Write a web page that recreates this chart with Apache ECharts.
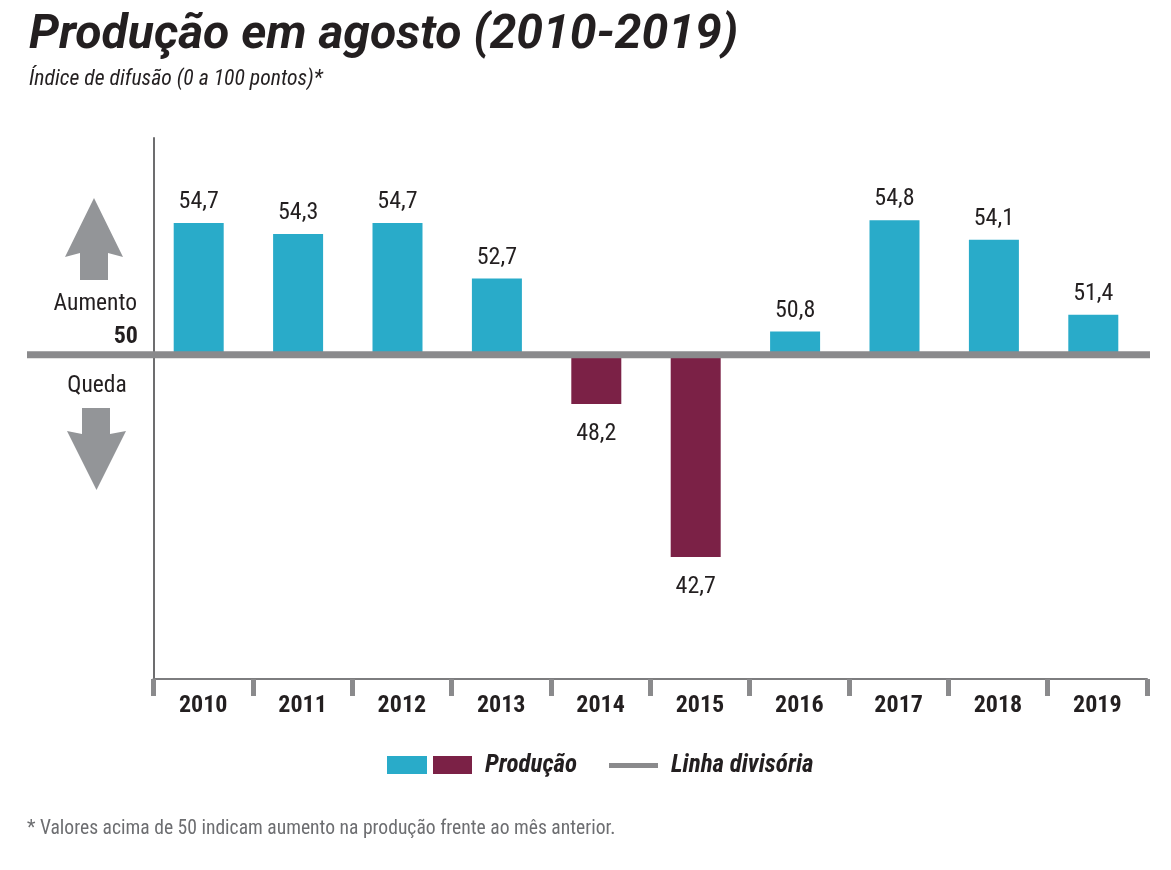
<!DOCTYPE html>
<html><head><meta charset="utf-8">
<style>html,body{margin:0;padding:0;background:#fff}#c{width:1171px;height:870px}</style>
<script src="https://cdn.jsdelivr.net/npm/echarts@6/dist/echarts.min.js"></script>
</head><body><div id="c"></div>
<script>
const years = ['2010','2011','2012','2013','2014','2015','2016','2017','2018','2019'];
const values = [54.7,54.3,54.7,52.7,48.2,42.7,50.8,54.8,54.1,51.4];
const divider = 50;
const TEAL='#29abc9', WINE='#7b2146', GREY='#8a8a8c', ARROW='#939598';
const NARROW='"Roboto Condensed","Open Sans",sans-serif';
const yRange={min:38.32,max:57.75};
const top_=138,bottom_=191;
function renderBar(params,api){
  const i=api.value(0), v=api.value(1);
  const p=api.coord([i,v]), b=api.coord([i,divider]);
  const w=api.size([1,0])[0]*0.503;
  const up=v>=divider;
  return {type:'group',children:[
    {type:'rect',shape:{x:p[0]-w/2,y:Math.min(p[1],b[1]),width:w,height:Math.abs(p[1]-b[1])},style:{fill:up?TEAL:WINE}},
    {type:'text',style:{x:p[0],y:up?p[1]-9:p[1]+18,text:v.toFixed(1).replace('.',','),
      textAlign:'center',textVerticalAlign:up?'bottom':'top',fill:'#231f20',font:'24px '+NARROW}}
  ]};
}
const gtext=(x,y,text,font,extra)=>({type:'text',x,y,z:20,style:Object.assign({text,font,fill:'#231f20',textVerticalAlign:'middle'},extra||{})});
const chart=echarts.init(document.getElementById('c'),null,{renderer:'canvas'});
chart.setOption({
  animation:false,backgroundColor:'#fff',
  title:[
    {text:'Produção em agosto (2010-2019)',left:24,top:7,textStyle:{fontFamily:'Roboto',fontStyle:'italic',fontWeight:700,fontSize:48,color:'#231f20'}},
    {text:'Índice de difusão (0 a 100 pontos)*',left:24,top:64,textStyle:{fontFamily:NARROW,fontStyle:'italic',fontWeight:'normal',fontSize:21.7,color:'#231f20'}}
  ],
  grid:[
    {left:149,right:28,top:top_,bottom:bottom_},
    {left:153.5,right:24,top:top_,bottom:bottom_},
    {left:27,right:21,top:top_+1,bottom:bottom_-1}
  ],
  xAxis:[
    {gridIndex:0,type:'category',data:years,show:false},
    {gridIndex:1,type:'category',data:years,axisLine:{lineStyle:{color:'#7d7d7f',width:2}},
     axisTick:{show:true,length:17,alignWithLabel:false,lineStyle:{color:GREY,width:5}},
     axisLabel:{margin:15,color:'#231f20',fontFamily:NARROW,fontWeight:'bold',fontSize:24}},
    {gridIndex:2,type:'value',min:0,max:1,show:false}
  ],
  yAxis:[
    Object.assign({gridIndex:0,type:'value',show:false},yRange),
    Object.assign({gridIndex:1,type:'value',axisLine:{show:true,onZero:false,lineStyle:{color:'#6d6d6f',width:2}},axisTick:{show:false},axisLabel:{show:false},splitLine:{show:false}},yRange),
    Object.assign({gridIndex:2,type:'value',show:false},yRange)
  ],
  series:[
    {name:'Produção',type:'custom',xAxisIndex:0,yAxisIndex:0,z:3,clip:false,
     encode:{x:0,y:1},renderItem:renderBar,data:values.map((v,i)=>[i,v])},
    {name:'Linha divisória',type:'line',xAxisIndex:2,yAxisIndex:2,z:5,symbol:'none',
     lineStyle:{color:GREY,width:7},data:[[0,divider],[1,divider]]}
  ],
  graphic:[
    {type:'polygon',z:20,shape:{points:[[94,198],[123,257],[108,253],[108,280],[80,280],[80,253],[65,257]]},style:{fill:ARROW}},
    {type:'polygon',z:20,shape:{points:[[82,408],[110,408],[110,434],[126,431],[96.5,490],[67,431],[82,434]]},style:{fill:ARROW}},
    gtext(137,304,'Aumento','23.5px '+NARROW,{textAlign:'right'}),
    gtext(138,337,'50','bold 24px '+NARROW,{textAlign:'right'}),
    gtext(97,386,'Queda','23.5px '+NARROW,{textAlign:'center'}),
    {type:'rect',z:20,shape:{x:387,y:756,width:40,height:18},style:{fill:TEAL}},
    {type:'rect',z:20,shape:{x:433,y:756,width:39,height:18},style:{fill:WINE}},
    gtext(485,766,'Produção','italic bold 25px '+NARROW),
    {type:'rect',z:20,shape:{x:609,y:763,width:49,height:5},style:{fill:GREY}},
    gtext(671,766,'Linha divisória','italic bold 25px '+NARROW),
    gtext(27,829,'* Valores acima de 50 indicam aumento na produção frente ao mês anterior.','19.6px '+NARROW,{fill:'#6d6e71'})
  ]
});
</script></body></html>
